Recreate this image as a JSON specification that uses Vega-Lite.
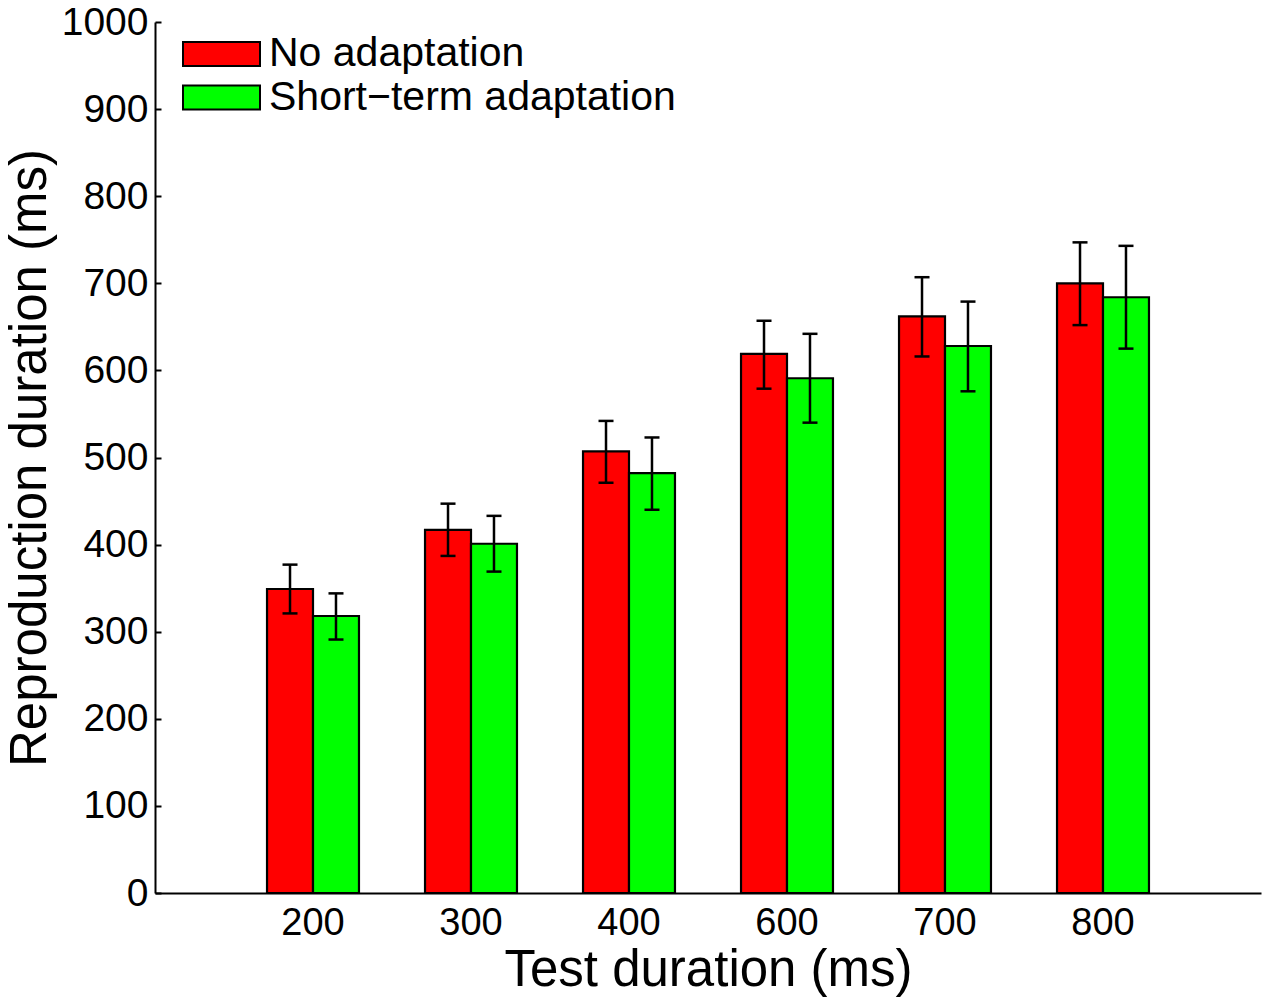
{
  "$schema": "https://vega.github.io/schema/vega-lite/v6.json",
  "width": 1106,
  "height": 871,
  "autosize": {"type": "none"},
  "padding": {"left": 155, "top": 22, "right": 13, "bottom": 111},
  "background": "white",
  "config": {
    "view": {"stroke": null},
    "font": "Liberation Sans",
    "axis": {
      "domainColor": "black",
      "domainWidth": 2,
      "tickColor": "black",
      "tickWidth": 2,
      "labelColor": "black",
      "labelFontSize": 39,
      "titleColor": "black",
      "titleFontSize": 51,
      "titleFontWeight": "normal",
      "grid": false
    }
  },
  "data": {
    "values": [
      {"dur": "200", "cond": "No adaptation", "mean": 349, "lo": 321, "hi": 377},
      {"dur": "200", "cond": "Short\u2212term adaptation", "mean": 318, "lo": 291, "hi": 344},
      {"dur": "300", "cond": "No adaptation", "mean": 417, "lo": 387, "hi": 447},
      {"dur": "300", "cond": "Short\u2212term adaptation", "mean": 401, "lo": 369, "hi": 433},
      {"dur": "400", "cond": "No adaptation", "mean": 507, "lo": 471, "hi": 542},
      {"dur": "400", "cond": "Short\u2212term adaptation", "mean": 482, "lo": 440, "hi": 523},
      {"dur": "600", "cond": "No adaptation", "mean": 619, "lo": 579, "hi": 657},
      {"dur": "600", "cond": "Short\u2212term adaptation", "mean": 591, "lo": 540, "hi": 642},
      {"dur": "700", "cond": "No adaptation", "mean": 662, "lo": 616, "hi": 707},
      {"dur": "700", "cond": "Short\u2212term adaptation", "mean": 628, "lo": 576, "hi": 679},
      {"dur": "800", "cond": "No adaptation", "mean": 700, "lo": 652, "hi": 747},
      {"dur": "800", "cond": "Short\u2212term adaptation", "mean": 684, "lo": 625, "hi": 743}
    ]
  },
  "encoding": {
    "x": {
      "field": "dur",
      "type": "nominal",
      "sort": ["200", "300", "400", "600", "700", "800"],
      "scale": {"paddingInner": 0.418, "paddingOuter": 0.709},
      "axis": {
        "title": "Test duration (ms)",
        "labelAngle": 0,
        "ticks": false,
        "labelPadding": 11,
        "labelFontSize": 38,
        "titlePadding": 3
      }
    },
    "xOffset": {
      "field": "cond",
      "type": "nominal",
      "sort": ["No adaptation", "Short\u2212term adaptation"],
      "scale": {"paddingInner": 0, "paddingOuter": 0}
    }
  },
  "layer": [
    {
      "mark": {"type": "bar", "stroke": "black", "strokeWidth": 2.2},
      "encoding": {
        "y": {
          "field": "mean",
          "type": "quantitative",
          "title": "Reproduction duration (ms)",
          "scale": {"domain": [0, 1000], "nice": false},
          "axis": {
            "values": [0, 100, 200, 300, 400, 500, 600, 700, 800, 900, 1000],
            "format": "d",
            "tickSize": -6,
            "labelPadding": 13,
            "titlePadding": 5
          }
        },
        "color": {
          "field": "cond",
          "type": "nominal",
          "sort": ["No adaptation", "Short\u2212term adaptation"],
          "scale": {"domain": ["No adaptation", "Short\u2212term adaptation"], "range": ["#FF0000", "#00FF00"]},
          "legend": {
            "title": null,
            "orient": "none",
            "legendX": 46,
            "legendY": 11.5,
            "padding": 0,
            "symbolType": "M-2,-0.624H2V0.624H-2Z",
            "symbolSize": 1482,
            "symbolStrokeColor": "black",
            "symbolStrokeWidth": 2,
            "symbolOpacity": 1,
            "labelFontSize": 41,
            "labelColor": "black",
            "labelOffset": 27,
            "rowPadding": 1.6,
            "labelLimit": 800
          }
        }
      }
    },
    {
      "mark": {"type": "rule", "strokeWidth": 2.5, "color": "black"},
      "encoding": {
        "y": {"field": "lo", "type": "quantitative", "title": "Reproduction duration (ms)"},
        "y2": {"field": "hi"}
      }
    },
    {
      "mark": {"type": "tick", "thickness": 2.5, "size": 15, "color": "black", "opacity": 1},
      "encoding": {
        "y": {"field": "lo", "type": "quantitative", "title": "Reproduction duration (ms)"}
      }
    },
    {
      "mark": {"type": "tick", "thickness": 2.5, "size": 15, "color": "black", "opacity": 1},
      "encoding": {
        "y": {"field": "hi", "type": "quantitative", "title": "Reproduction duration (ms)"}
      }
    }
  ]
}
